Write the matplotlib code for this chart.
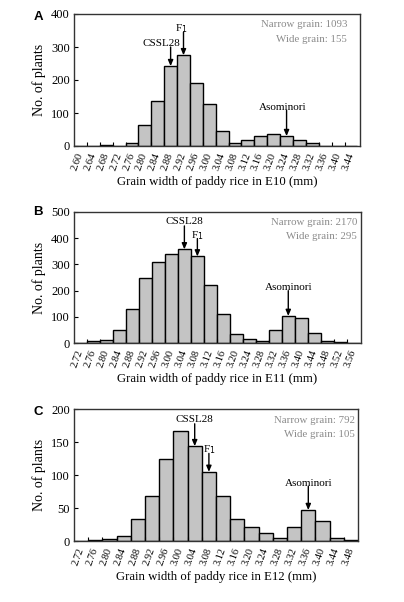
import matplotlib
matplotlib.use("Agg")
import matplotlib.pyplot as plt
import numpy as np

# ---- data ----
labels_a = ["2.60","2.64","2.68","2.72","2.76","2.80","2.84","2.88","2.92","2.96","3.00",
            "3.04","3.08","3.12","3.16","3.20","3.24","3.28","3.32","3.36","3.40","3.44"]
counts_a = [0, 1, 3, 0, 10, 64, 135, 242, 275, 191, 126, 46, 10, 19, 30, 36, 30, 18, 9, 0, 0, 0]

labels_b = ["2.72","2.76","2.80","2.84","2.88","2.92","2.96","3.00","3.04","3.08","3.12",
            "3.16","3.20","3.24","3.28","3.32","3.36","3.40","3.44","3.48","3.52","3.56"]
counts_b = [0, 8, 12, 52, 132, 247, 308, 341, 357, 330, 223, 111, 35, 18, 8, 52, 104, 97, 40, 9, 4, 0]

labels_c = ["2.72","2.76","2.80","2.84","2.88","2.92","2.96","3.00","3.04","3.08","3.12",
            "3.16","3.20","3.24","3.28","3.32","3.36","3.40","3.44","3.48"]
counts_c = [0, 2, 3, 7, 33, 69, 124, 167, 144, 105, 69, 34, 22, 12, 4, 22, 47, 30, 5, 2]

xlabels = ["Grain width of paddy rice in E10 (mm)",
           "Grain width of paddy rice in E11 (mm)",
           "Grain width of paddy rice in E12 (mm)"]
panel_letters = ["A", "B", "C"]
ymax = [400, 500, 200]
ystep = [100, 100, 50]
narrow = ["Narrow grain: 1093", "Narrow grain: 2170", "Narrow grain: 792"]
wide = ["Wide grain: 155", "Wide grain: 295", "Wide grain: 105"]

# annotations: (label, category, text x offset, text y, arrow start y)
ann_a = [("CSSL28", "2.88", -0.75, 312, 300), ("F$_1$", "2.92", -0.15, 357, 345),
         ("Asominori", "3.24", -0.3, 118, 108)]
ann_b = [("CSSL28", "3.04", 0.0, 462, 446), ("F$_1$", "3.08", 0.0, 411, 398),
         ("Asominori", "3.36", 0.0, 213, 200)]
ann_c = [("CSSL28", "3.04", 0.0, 185, 178), ("F$_1$", "3.08", 0.0, 139, 133),
         ("Asominori", "3.36", 0.0, 88, 83)]

serif = ["Liberation Serif", "DejaVu Serif"]

fig = plt.figure(figsize=(4.04, 6.02), dpi=100)

positions = [
    [74/404, 1-146/602, 286/404, 132/602],
    [74/404, 1-343.3/602, 287/404, 131.6/602],
    [74/404, 1-541/602, 284/404, 131.7/602],
]
xright = [21.7, 21.6, 19.5]
text_x = [0.955, 0.986, 0.99]
letter_y = [17, 212, 412]

datasets = [(labels_a, counts_a, ann_a), (labels_b, counts_b, ann_b), (labels_c, counts_c, ann_c)]

for i, (labs, cnts, anns) in enumerate(datasets):
    ax = fig.add_axes(positions[i])
    x = np.arange(len(labs))
    ax.bar(x, cnts, width=1.0, color="#c4c4c4", edgecolor="black", linewidth=1.0)
    ax.set_xlim(-0.5, xright[i])
    ax.set_ylim(0, ymax[i])
    ax.set_yticks(np.arange(0, ymax[i] + 1, ystep[i]))
    ax.set_yticklabels([str(v) for v in np.arange(0, ymax[i] + 1, ystep[i])],
                       fontfamily=serif, fontsize=9)
    ax.set_xticks(x)
    ax.set_xticklabels(labs, rotation=70, rotation_mode="anchor", ha="right", va="center",
                       fontfamily=serif, fontsize=7.5)
    ax.set_xticks(np.arange(len(labs) - 1) + 0.5, minor=True)
    ax.tick_params(axis="x", which="major", length=0, pad=5)
    ax.tick_params(axis="x", which="minor", direction="in", length=3, width=0.8)
    ax.tick_params(axis="y", direction="in", length=3, width=0.8, pad=3)
    for s in ax.spines.values():
        s.set_linewidth(1.0)
        s.set_color("#333333")
    ax.set_xlabel(xlabels[i], fontfamily=serif, fontsize=9.2, labelpad=3)
    ax.set_ylabel("No. of plants", fontfamily=serif, fontsize=10, labelpad=4)
    ax.text(text_x[i], 0.917, narrow[i], transform=ax.transAxes, ha="right", va="center",
            color="#8a8a8a", fontfamily=serif, fontsize=7.8)
    ax.text(text_x[i], 0.81, wide[i], transform=ax.transAxes, ha="right", va="center",
            color="#8a8a8a", fontfamily=serif, fontsize=7.8)
    for (txt, cat, dx, ty, ay) in anns:
        xi = labs.index(cat)
        top = cnts[xi]
        ax.annotate("", xy=(xi, top), xytext=(xi, ay),
                    arrowprops=dict(arrowstyle="-|>,head_length=0.35,head_width=0.15",
                                    color="black", lw=1.0, shrinkA=0, shrinkB=0))
        ax.text(xi + dx, ty, txt, ha="center", va="center", fontfamily=serif, fontsize=8)
    fig.text(38/404, 1 - letter_y[i]/602, panel_letters[i], ha="center", va="center",
             fontweight="bold", fontsize=9.5, fontfamily="Liberation Sans")

fig.savefig("out.png", dpi=100)
